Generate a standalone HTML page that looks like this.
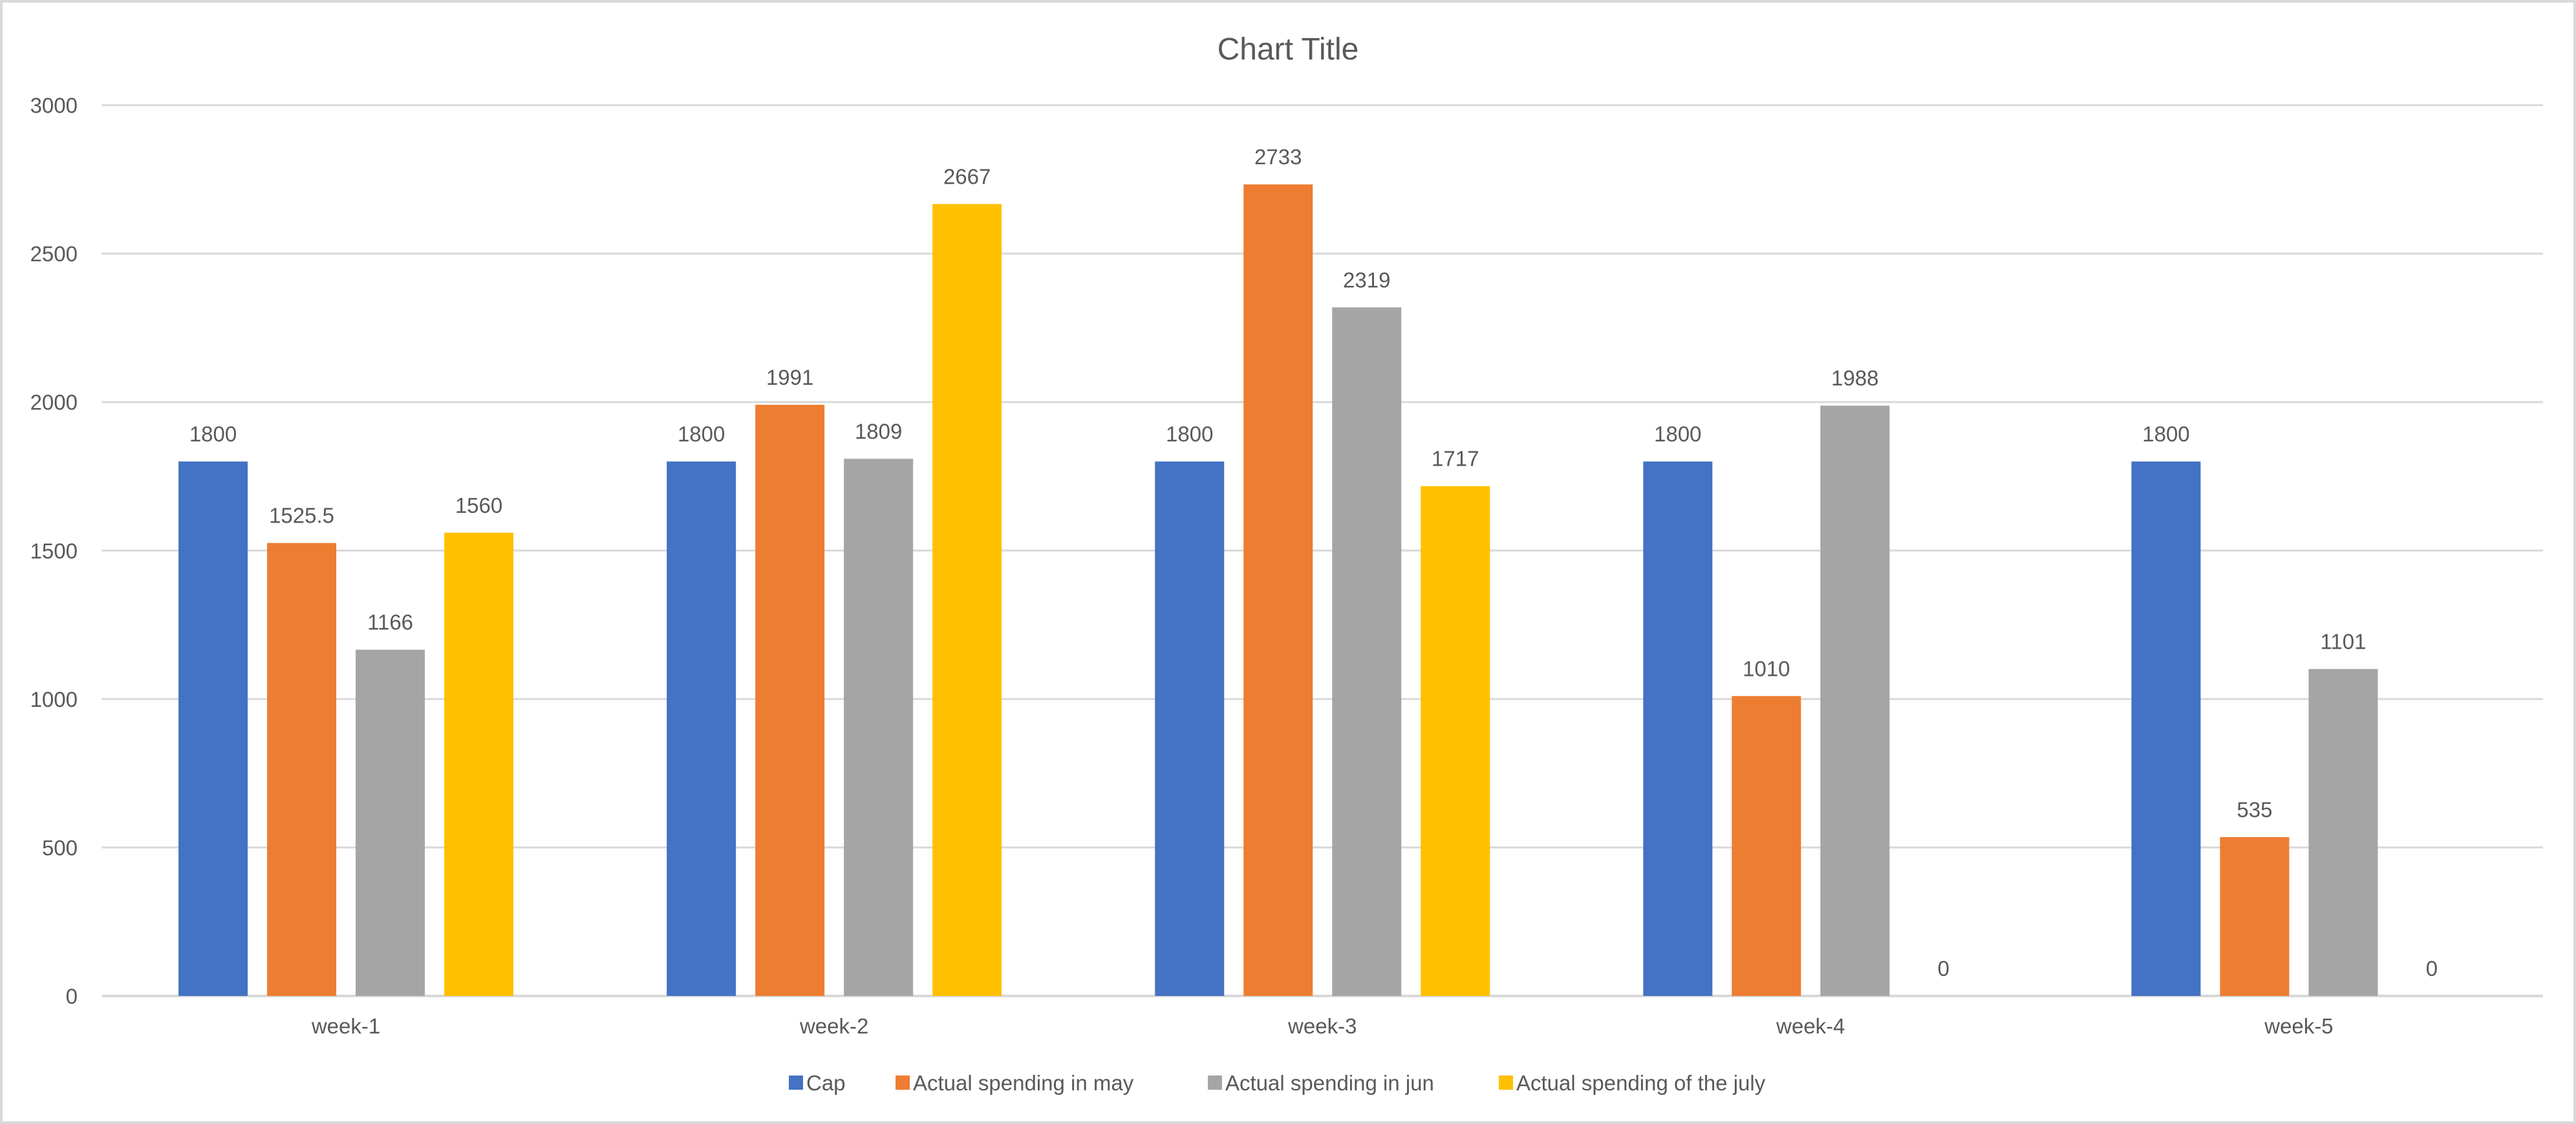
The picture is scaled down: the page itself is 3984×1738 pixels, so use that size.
<!DOCTYPE html>
<html><head><meta charset="utf-8"><style>
html,body{margin:0;padding:0;background:#fff;}
svg{display:block;}
text{font-family:"Liberation Sans",sans-serif;fill:#595959;}
</style></head><body>
<svg id="chart" width="3984" height="1738" viewBox="0 0 3984 1738" xmlns="http://www.w3.org/2000/svg">
<rect x="2" y="2" width="3980" height="1734" fill="#fff" stroke="#D9D9D9" stroke-width="4"/>
<text x="1992" y="92" font-size="48" text-anchor="middle">Chart Title</text>
<g id="grid"></g><g id="bars"></g><g id="labels"></g><g id="legend"></g>
</svg>
<script>
const categories = ["week-1","week-2","week-3","week-4","week-5"];
const seriesNames = ["Cap","Actual spending in may","Actual spending in jun","Actual spending of the july"];
const capValues = [1800,1800,1800,1800,1800];
const mayValues = [1525.5,1991,2733,1010,535];
const junValues = [1166,1809,2319,1988,1101];
const julyValues = [1560,2667,1717,0,0];
const yTicks = [0,500,1000,1500,2000,2500,3000];
const colors = ["#4472C4","#ED7D31","#A5A5A5","#FFC000"];
const series = [capValues, mayValues, junValues, julyValues];

const NS = "http://www.w3.org/2000/svg";
const plotL = 157.5, plotR = 3933, y0px = 1540, y3000px = 162.6;
const yScale = v => y0px - (v/3000)*(y0px - y3000px);
const catW = (plotR - plotL)/categories.length;
const xCenter = i => plotL + catW*(i+0.5);
const barW = 107, barStep = 137;
function mk(tag, attrs, parent){const e=document.createElementNS(NS,tag);for(const k in attrs)e.setAttribute(k,attrs[k]);parent.appendChild(e);return e;}
const grid=document.getElementById('grid'), bars=document.getElementById('bars'), labels=document.getElementById('labels'), legend=document.getElementById('legend');

yTicks.forEach(t=>{
  const y=yScale(t);
  const l=mk('line',{x1:plotL,x2:plotR,y1:y,y2:y,stroke:'#D9D9D9','stroke-width':t===0?4:3},grid);
  
  
  const tx=mk('text',{x:120,y:y+12,'font-size':33,'text-anchor':'end'},grid);
  tx.textContent=t;
  
  
});
categories.forEach((c,i)=>{
  const tx=mk('text',{x:xCenter(i),y:1598,'font-size':33,'text-anchor':'middle'},labels);
  tx.textContent=c;
  
  
  series.forEach((s,j)=>{
    const v=s[i];
    const x=xCenter(i)-(barStep*1.5)-barW/2+j*barStep;
    const y=yScale(v);
    const r=mk('rect',{x:x,y:y,width:barW,height:y0px-y,fill:colors[j]},bars);
    
    
    const lt=mk('text',{x:x+barW/2,y:y-31,'font-size':33,'text-anchor':'middle'},labels);
    lt.textContent=v;
    
    
  });
});
const legX=[1220,1385,1868,2318];
seriesNames.forEach((n,j)=>{
  const r=mk('rect',{x:legX[j],y:1663,width:22,height:22,fill:colors[j]},legend);
  
  
  const t=mk('text',{x:legX[j]+27,y:1686,'font-size':33},legend);
  t.textContent=n;
  
  
});
</script>
</body></html>
